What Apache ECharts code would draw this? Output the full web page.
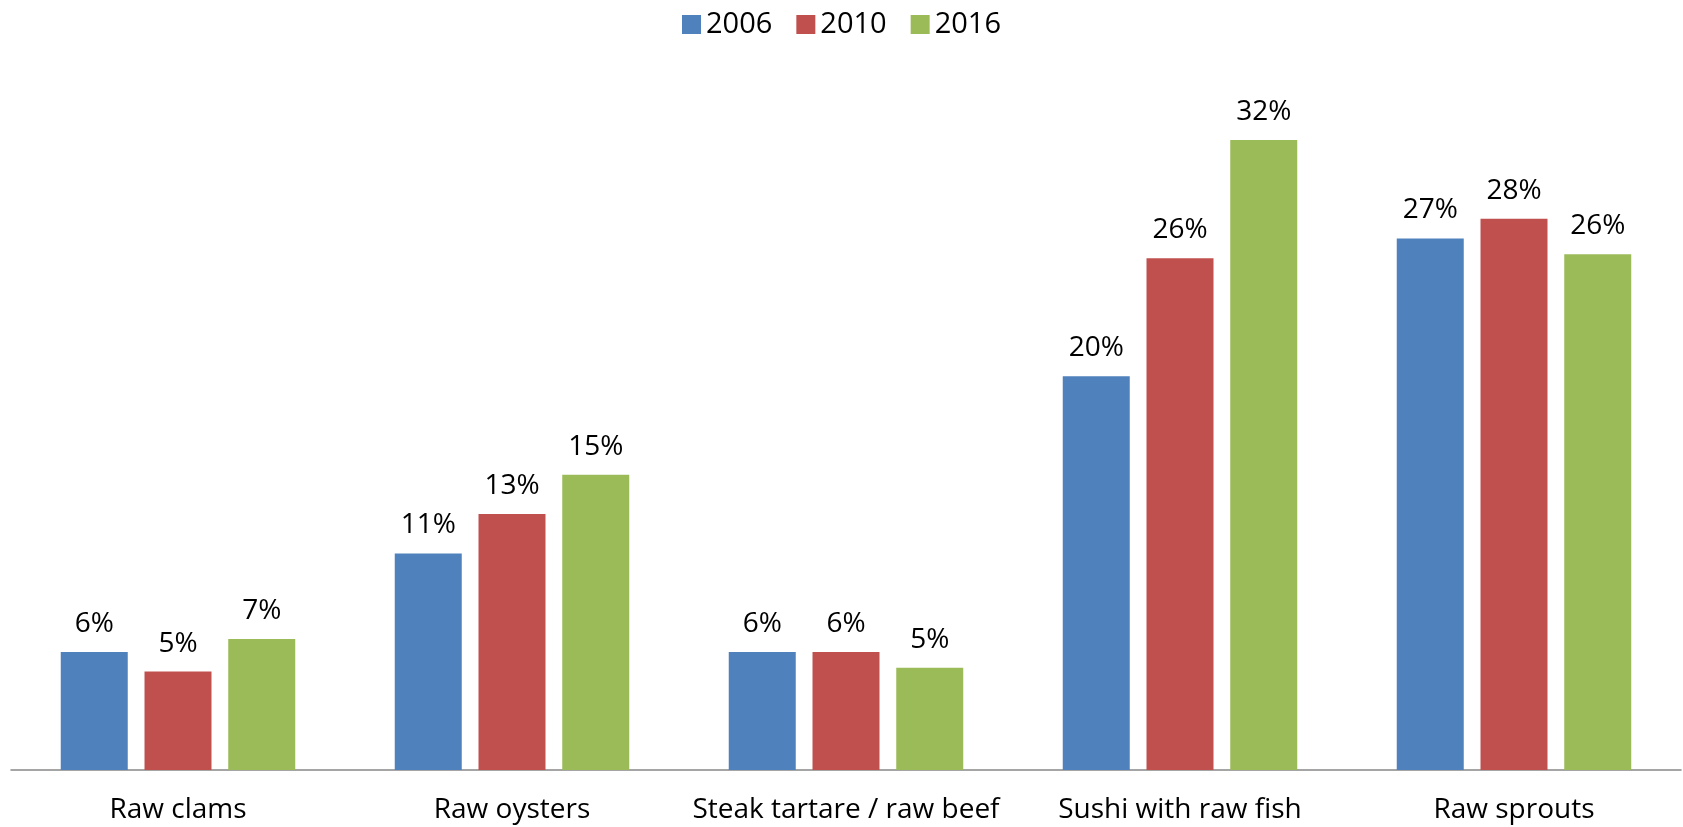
<!DOCTYPE html>
<html>
<head>
<meta charset="utf-8">
<script src="https://cdn.jsdelivr.net/npm/echarts@6/dist/echarts.min.js"></script>
<style>
html,body{margin:0;padding:0;background:#fff;}
#chart{width:1683px;height:827px;}
</style>
</head>
<body>
<div id="chart"></div>
<script>
const categories = ["Raw clams", "Raw oysters", "Steak tartare / raw beef", "Sushi with raw fish", "Raw sprouts"];
const seriesNames = ["2006", "2010", "2016"];
const values2006 = [6.0, 11.0, 6.0, 20.0, 27.0];
const values2010 = [5.0, 13.0, 6.0, 26.0, 28.0];
const values2016 = [6.65, 15.0, 5.2, 32.0, 26.2];
const colors = ["#4F81BD", "#C0504D", "#9BBB59"];

const FONT = "Open Sans";
const allValues = [values2006, values2010, values2016];

const chart = echarts.init(document.getElementById('chart'), null, {renderer: 'canvas'});
chart.setOption({
  animation: false,
  textStyle: {fontFamily: FONT},
  legend: {
    top: 5,
    left: 'center',
    itemWidth: 19,
    itemHeight: 19,
    itemGap: 24,
    icon: 'rect',
    textStyle: {fontFamily: FONT, fontSize: 29, color: '#000'},
    data: seriesNames
  },
  grid: {left: 11, right: 2, top: 81, bottom: 57, containLabel: false},
  xAxis: {
    type: 'category',
    data: categories,
    axisLine: {show: true, lineStyle: {color: '#888888', width: 1.5}},
    axisTick: {show: false},
    axisLabel: {fontFamily: FONT, fontSize: 28, color: '#000', margin: 26, interval: 0}
  },
  yAxis: {
    type: 'value',
    min: 0,
    max: 35,
    show: false,
    splitLine: {show: false}
  },
  series: seriesNames.map((name, i) => ({
    name: name,
    type: 'bar',
    data: allValues[i],
    barWidth: 67,
    barGap: '25%',
    itemStyle: {color: colors[i]},
    label: {
      show: true,
      position: 'top',
      distance: 14,
      fontFamily: FONT,
      fontSize: 28,
      color: '#000',
      formatter: p => Math.round(p.value) + '%'
    }
  }))
});
</script>
</body>
</html>
